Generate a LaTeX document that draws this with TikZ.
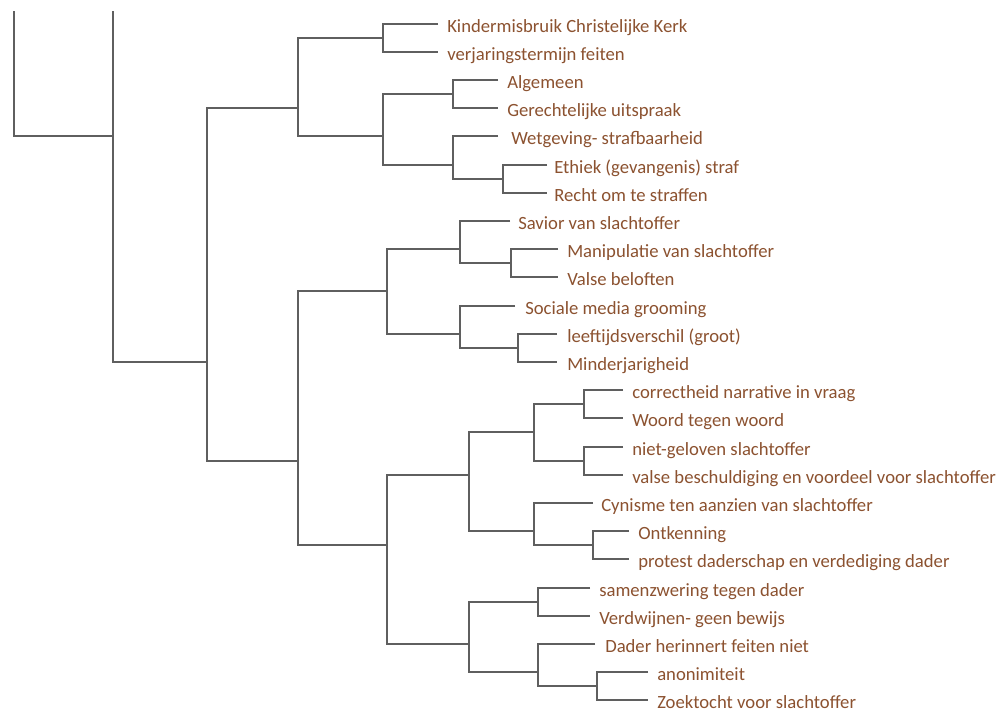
\documentclass[tikz,border=0pt]{standalone}
\usepackage{fontspec}
\setmainfont{Carlito}
\definecolor{lblbrown}{RGB}{140,82,48}
\definecolor{dendgray}{RGB}{95,95,95}
\tikzset{
  dend/.style={draw=dendgray, line width=1.5pt},
  lbl/.style={anchor=base west, inner sep=0pt, text=lblbrown, font=\fontsize{14}{16}\selectfont}
}
\begin{document}
\begin{tikzpicture}[x=0.75pt, y=-0.75pt]
\fill[white] (0,0) rectangle (1000,714);
\useasboundingbox (0,0) rectangle (1000,714);

% labels
\node[lbl] (L0)  at (447,32.0)  {Kindermisbruik Christelijke Kerk};
\node[lbl] (L1)  at (447,60.2)  {verjaringstermijn feiten};
\node[lbl] (L2)  at (507,88.4)  {Algemeen};
\node[lbl] (L3)  at (507,116.6) {Gerechtelijke uitspraak};
\node[lbl] (L4)  at (511,144.8) {Wetgeving- strafbaarheid};
\node[lbl] (L5)  at (554,173.0) {Ethiek (gevangenis) straf};
\node[lbl] (L6)  at (554,201.2) {Recht om te straffen};
\node[lbl] (L7)  at (518,229.4) {Savior van slachtoffer};
\node[lbl] (L8)  at (567,257.6) {Manipulatie van slachtoffer};
\node[lbl] (L9)  at (567,285.8) {Valse beloften};
\node[lbl] (L10) at (525,314.0) {Sociale media grooming};
\node[lbl] (L11) at (567,342.2) {leeftijdsverschil (groot)};
\node[lbl] (L12) at (567,370.4) {Minderjarigheid};
\node[lbl] (L13) at (632,398.6) {correctheid narrative in vraag};
\node[lbl] (L14) at (632,426.8) {Woord tegen woord};
\node[lbl] (L15) at (632,455.0) {niet-geloven slachtoffer};
\node[lbl] (L16) at (632,483.2) {valse beschuldiging en voordeel voor slachtoffer};
\node[lbl] (L17) at (601,511.4) {Cynisme ten aanzien van slachtoffer};
\node[lbl] (L18) at (638,539.6) {Ontkenning};
\node[lbl] (L19) at (638,567.8) {protest daderschap en verdediging dader};
\node[lbl] (L20) at (599,596.0) {samenzwering tegen dader};
\node[lbl] (L21) at (599,624.2) {Verdwijnen- geen bewijs};
\node[lbl] (L22) at (605,652.4) {Dader herinnert feiten niet};
\node[lbl] (L23) at (657,680.6) {anonimiteit};
\node[lbl] (L24) at (657,708.8) {Zoektocht voor slachtoffer};

% leaf line ends
\coordinate (e0)  at (438,24);
\coordinate (e1)  at (438,52);
\coordinate (e2)  at (498,80);
\coordinate (e3)  at (498,108);
\coordinate (e4)  at (498,136);
\coordinate (e5)  at (547,165);
\coordinate (e6)  at (547,193);
\coordinate (e7)  at (510,221);
\coordinate (e8)  at (558,249);
\coordinate (e9)  at (558,277);
\coordinate (e10) at (515,306);
\coordinate (e11) at (557,334);
\coordinate (e12) at (557,362);
\coordinate (e13) at (623,390);
\coordinate (e14) at (623,418);
\coordinate (e15) at (623,447);
\coordinate (e16) at (623,475);
\coordinate (e17) at (593,503);
\coordinate (e18) at (629,531);
\coordinate (e19) at (629,559);
\coordinate (e20) at (590,588);
\coordinate (e21) at (590,616);
\coordinate (e22) at (595,644);
\coordinate (e23) at (648,672);
\coordinate (e24) at (648,700);

% junctions
\coordinate (A)     at (383,38);
\coordinate (B)     at (453,94);
\coordinate (C)     at (503,179);
\coordinate (D)     at (453,165);
\coordinate (E)     at (383,136);
\coordinate (F)     at (298,108);
\coordinate (G89)   at (511,263);
\coordinate (G789)  at (460,249);
\coordinate (G1112) at (518,348);
\coordinate (G1012) at (460,334);
\coordinate (G712)  at (387,291);
\coordinate (H1314) at (584,404);
\coordinate (H1516) at (584,461);
\coordinate (H1316) at (534,432);
\coordinate (H1819) at (593,545);
\coordinate (H1719) at (534,531);
\coordinate (H1319) at (469,475);
\coordinate (K2021) at (538,602);
\coordinate (K2324) at (597,686);
\coordinate (K2224) at (538,672);
\coordinate (K2024) at (469,644);
\coordinate (K1324) at (387,545);
\coordinate (M724)  at (298,461);
\coordinate (R024)  at (207,362);
\coordinate (T1)    at (113,136);
\coordinate (cutL)  at (14,11);
\coordinate (cutR)  at (113,11);

% dendrogram
\draw[dend] (e0) -| (A) |- (e1);
\draw[dend] (e2) -| (B) |- (e3);
\draw[dend] (e5) -| (C) |- (e6);
\draw[dend] (e4) -| (D) |- (C);
\draw[dend] (B) -| (E) |- (D);
\draw[dend] (A) -| (F) |- (E);
\draw[dend] (e8) -| (G89) |- (e9);
\draw[dend] (e7) -| (G789) |- (G89);
\draw[dend] (e11) -| (G1112) |- (e12);
\draw[dend] (e10) -| (G1012) |- (G1112);
\draw[dend] (G789) -| (G712) |- (G1012);
\draw[dend] (e13) -| (H1314) |- (e14);
\draw[dend] (e15) -| (H1516) |- (e16);
\draw[dend] (H1314) -| (H1316) |- (H1516);
\draw[dend] (e18) -| (H1819) |- (e19);
\draw[dend] (e17) -| (H1719) |- (H1819);
\draw[dend] (H1316) -| (H1319) |- (H1719);
\draw[dend] (e20) -| (K2021) |- (e21);
\draw[dend] (e23) -| (K2324) |- (e24);
\draw[dend] (e22) -| (K2224) |- (K2324);
\draw[dend] (K2021) -| (K2024) |- (K2224);
\draw[dend] (H1319) -| (K1324) |- (K2024);
\draw[dend] (G712) -| (M724) |- (K1324);
\draw[dend] (F) -| (R024) |- (M724);
\draw[dend] (cutR) |- (R024);
\draw[dend] (cutL) |- (T1);
\end{tikzpicture}
\end{document}
